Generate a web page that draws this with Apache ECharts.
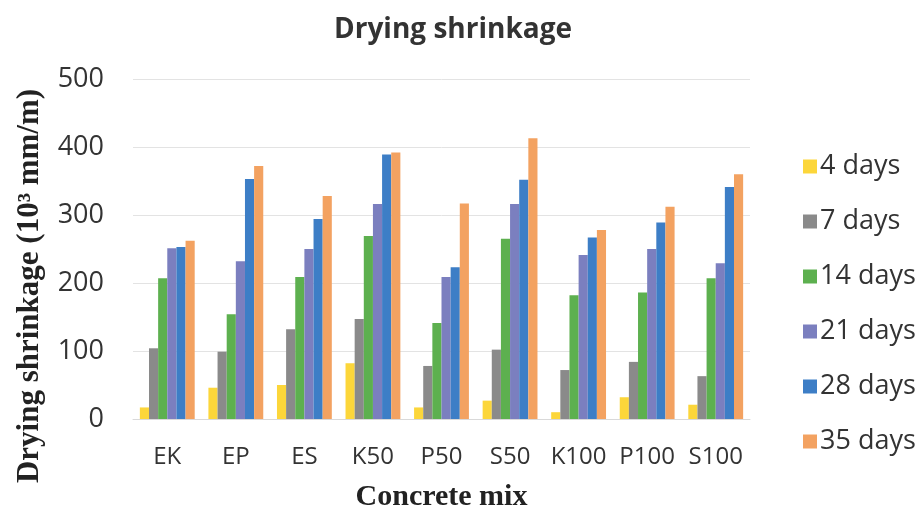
<!DOCTYPE html>
<html>
<head>
<meta charset="utf-8">
<title>Drying shrinkage</title>
<script src="https://cdn.jsdelivr.net/npm/echarts@6/dist/echarts.min.js"></script>
<style>
  html, body { margin: 0; padding: 0; background: #fff; }
  #chart { width: 921px; height: 520px; }
</style>
</head>
<body>
<div id="chart"></div>
<script>
// Concrete mixes along the x axis
const mixes = ['EK', 'EP', 'ES', 'K50', 'P50', 'S50', 'K100', 'P100', 'S100'];

// Drying shrinkage (10^3 mm/m) per curing age
const days4  = [17, 46, 50, 82, 17, 27, 10, 32, 21];
const days7  = [104, 99, 132, 147, 78, 102, 72, 84, 63];
const days14 = [207, 154, 209, 269, 141, 265, 182, 186, 207];
const days21 = [251, 232, 250, 316, 209, 316, 241, 250, 229];
const days28 = [253, 353, 294, 389, 223, 352, 267, 289, 341];
const days35 = [262, 372, 328, 392, 317, 413, 278, 312, 360];

const seriesNames = ['4 days', '7 days', '14 days', '21 days', '28 days', '35 days'];
const seriesData = [days4, days7, days14, days21, days28, days35];
const seriesColors = ['#FCD63A', '#8A8A8A', '#5DB04F', '#7B7FBF', '#3D7EC6', '#F3A261'];

// y axis ticks
const yMin = 0, yMax = 500, yStep = 100;

const sansFont = '"Open Sans", "Noto Sans", sans-serif';
const serifFont = '"Liberation Serif", "DejaVu Serif", serif';

const chart = echarts.init(document.getElementById('chart'), null, { renderer: 'canvas' });

chart.setOption({
  backgroundColor: '#ffffff',
  animation: false,
  color: seriesColors,
  title: {
    text: 'Drying shrinkage',
    left: 448,
    textAlign: 'center',
    top: 11,
    textStyle: { fontFamily: sansFont, fontSize: 28, fontWeight: 'bold', color: '#333333' }
  },
  legend: {
    orient: 'vertical',
    left: 798,
    top: 148,
    itemWidth: 14,
    itemHeight: 14,
    itemGap: 28,
    icon: 'rect',
    textStyle: { fontFamily: sansFont, fontSize: 27, color: '#333333', padding: [0, 0, 0, -2] },
    data: seriesNames
  },
  grid: { left: 133, right: 171, top: 79, bottom: 101, containLabel: false },
  xAxis: {
    type: 'category',
    data: mixes,
    name: 'Concrete mix',
    nameLocation: 'middle',
    nameGap: 63,
    nameTextStyle: { fontFamily: serifFont, fontSize: 30, fontWeight: 'bold', color: '#222222' },
    axisLine: { lineStyle: { color: '#d9d9d9', width: 1 } },
    axisTick: { show: false },
    axisLabel: { interval: 0, hideOverlap: false, fontFamily: sansFont, fontSize: 24, color: '#333333', margin: 26 }
  },
  yAxis: {
    type: 'value',
    min: yMin,
    max: yMax,
    interval: yStep,
    axisLine: { show: false },
    axisTick: { show: false },
    axisLabel: { fontFamily: sansFont, fontSize: 27, color: '#333333', margin: 29 },
    splitLine: { lineStyle: { color: '#e3e3e3', width: 1 } }
  },
  graphic: [{
    // y axis title, drawn vertically beside the tick labels
    type: 'text',
    x: 30,
    y: 286,
    rotation: Math.PI / 2,
    style: {
      text: 'Drying shrinkage (10³ mm/m)',
      font: 'bold 31px "Liberation Serif", serif',
      fill: '#222222',
      align: 'center',
      verticalAlign: 'middle'
    }
  }],
  series: seriesNames.map((name, i) => ({
    name: name,
    type: 'bar',
    data: seriesData[i],
    barGap: '0%',
    barCategoryGap: '20%',
    itemStyle: { color: seriesColors[i] }
  }))
});
</script>
</body>
</html>
